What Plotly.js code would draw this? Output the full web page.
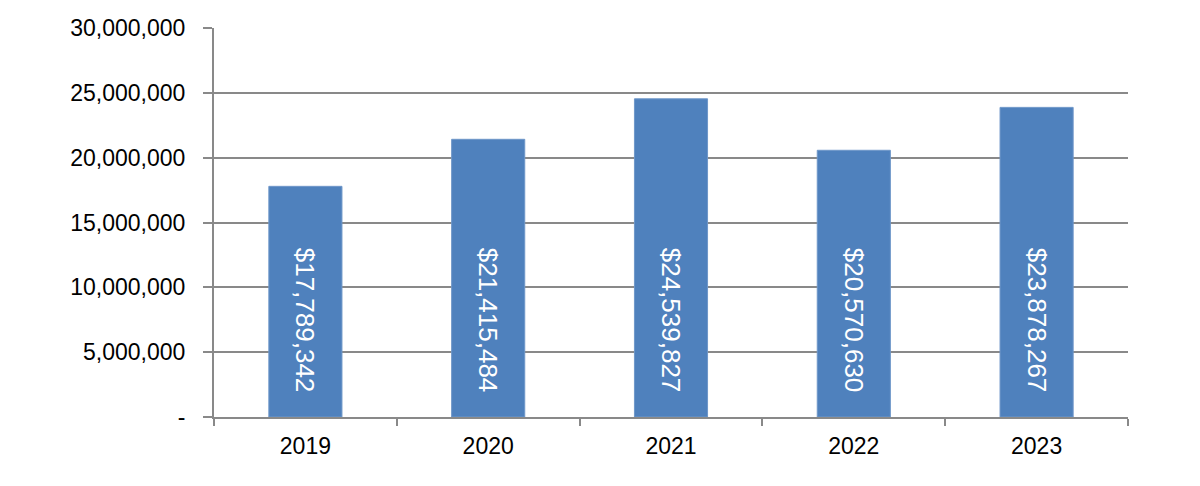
<!DOCTYPE html>
<html>
<head>
<meta charset="utf-8">
<script src="https://cdn.plot.ly/plotly-3.0.1.min.js"></script>
<style>
  html, body { margin: 0; padding: 0; background: #fff; }
  #chart { width: 1200px; height: 486px; }
</style>
</head>
<body>
<div id="chart"></div>
<script>
// chart data
const years = ['2019', '2020', '2021', '2022', '2023'];
const revenue = [17789342, 21415484, 24539827, 20570630, 23878267];
const yTickVals = [0, 5000000, 10000000, 15000000, 20000000, 25000000, 30000000];
const yTickText = ['-', '5,000,000', '10,000,000', '15,000,000', '20,000,000', '25,000,000', '30,000,000'];

// trailing no-break spaces lift the rotated label off the bar base
const labels = revenue.map(v => '$' + v.toLocaleString('en-US') + '\u00a0\u00a0\u00a0');

const trace = {
    type: 'bar',
    x: years,
    y: revenue,
    text: labels,
    textposition: 'inside',
    insidetextanchor: 'start',
    textangle: 90,
    textfont: { family: 'Liberation Sans, Arial, sans-serif', size: 26, color: '#ffffff' },
    marker: { color: '#4F81BD', line: { color: '#6f97c9', width: 1 } },
    hoverinfo: 'none'
};

const layout = {
    width: 1200,
    height: 486,
    margin: { l: 214, r: 72, t: 28, b: 69 },
    paper_bgcolor: '#ffffff',
    plot_bgcolor: '#ffffff',
    showlegend: false,
    bargap: 0.6,
    font: { family: 'Liberation Sans, Arial, sans-serif', size: 24, color: '#000000' },
    xaxis: {
        type: 'category',
        showline: true,
        linecolor: '#898989',
        linewidth: 2,
        ticks: 'outside',
        tickson: 'boundaries',
        ticklen: 7,
        tickwidth: 2,
        tickcolor: '#898989',
        showgrid: false,
        zeroline: false,
        ticklabelstandoff: 7,
        tickfont: { size: 23, color: '#000000' }
    },
    yaxis: {
        range: [0, 30000000],
        tickvals: yTickVals,
        ticktext: yTickText,
        showline: true,
        linecolor: '#898989',
        linewidth: 2,
        ticks: 'outside',
        ticklen: 9,
        tickwidth: 2,
        tickcolor: '#898989',
        showgrid: true,
        gridcolor: '#898989',
        gridwidth: 2,
        zeroline: false,
        ticklabelstandoff: 13,
        tickfont: { size: 23, color: '#000000' }
    }
};

Plotly.newPlot('chart', [trace], layout, { staticPlot: true, displayModeBar: false });
</script>
</body>
</html>
